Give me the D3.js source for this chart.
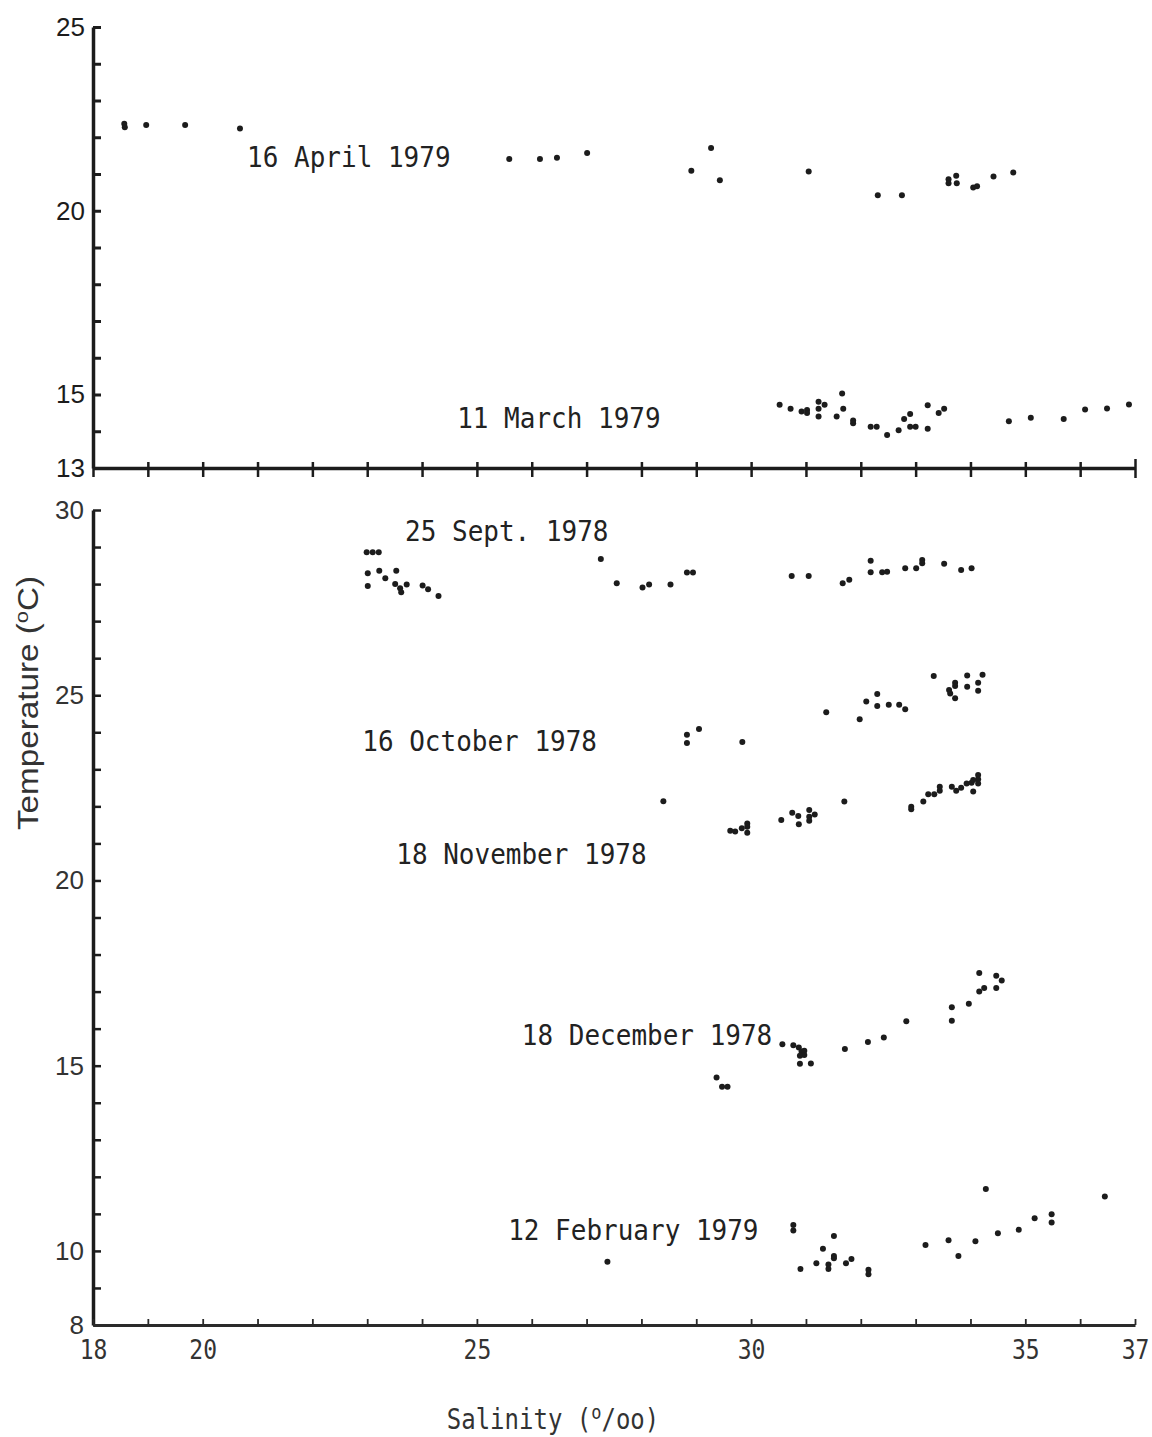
<!DOCTYPE html>
<html>
<head>
<meta charset="utf-8">
<script src="https://cdn.jsdelivr.net/npm/d3@7/dist/d3.min.js"></script>
<style>
  html, body { margin: 0; padding: 0; background: #fff; }
  svg { display: block; }
</style>
</head>
<body>
<svg id="chart" width="1152" height="1437"></svg>
<script>
// Temperature–salinity observations, [salinity (o/oo), temperature (oC)]
// Upper panel: spring 1979 cruises
const april1979 = [
  [18.57, 22.37], [18.58, 22.27], [18.97, 22.33], [19.68, 22.33], [20.68, 22.24],
  [25.59, 21.41], [26.15, 21.41], [26.46, 21.44], [27.01, 21.57],
  [28.91, 21.09], [29.27, 21.71], [29.43, 20.83], [31.05, 21.07],
  [32.31, 20.42], [32.75, 20.42], [33.60, 20.86], [33.60, 20.75], [33.74, 20.95],
  [33.75, 20.75], [34.05, 20.63], [34.12, 20.67], [34.42, 20.93], [34.78, 21.04]
];
const march1979 = [
  [30.52, 14.72], [30.72, 14.61], [30.92, 14.54], [31.02, 14.58], [31.02, 14.50],
  [31.23, 14.80], [31.23, 14.61], [31.23, 14.40], [31.34, 14.72], [31.56, 14.40],
  [31.66, 15.03], [31.68, 14.61], [31.86, 14.29], [31.86, 14.22], [32.18, 14.12],
  [32.29, 14.12], [32.48, 13.90], [32.69, 14.03], [32.79, 14.33], [32.90, 14.47],
  [32.90, 14.12], [33.00, 14.12], [33.22, 14.71], [33.22, 14.07], [33.42, 14.50],
  [33.52, 14.61], [34.70, 14.27], [35.10, 14.37], [35.70, 14.33], [36.09, 14.59],
  [36.49, 14.62], [36.89, 14.73]
];
// Lower panel: autumn/winter 1978-79 cruises
const sept1978 = [
  [22.99, 28.86], [23.10, 28.86], [23.21, 28.86], [23.01, 28.29], [23.22, 28.36],
  [23.33, 28.16], [23.53, 28.36], [23.01, 27.95], [23.51, 28.00], [23.60, 27.89],
  [23.62, 27.78], [23.72, 27.99], [24.01, 27.96], [24.11, 27.86], [24.30, 27.68],
  [27.26, 28.68], [27.55, 28.02], [28.02, 27.91], [28.14, 27.99], [28.53, 27.99],
  [28.83, 28.31], [28.94, 28.31], [30.74, 28.22], [31.05, 28.22], [31.67, 28.02],
  [31.79, 28.12], [32.18, 28.63], [32.18, 28.32], [32.39, 28.32], [32.48, 28.33],
  [32.81, 28.43], [33.01, 28.43], [33.12, 28.65], [33.12, 28.56], [33.52, 28.55],
  [33.83, 28.38], [34.02, 28.43]
];
const oct1978 = [
  [28.83, 23.93], [28.83, 23.71], [29.05, 24.09], [29.84, 23.74], [31.37, 24.54],
  [31.98, 24.35], [32.10, 24.83], [32.30, 25.03], [32.30, 24.71], [32.51, 24.74],
  [32.70, 24.74], [32.81, 24.62], [33.33, 25.52], [33.61, 25.14], [33.63, 25.05],
  [33.72, 25.34], [33.72, 25.25], [33.72, 24.92], [33.94, 25.53], [33.94, 25.23],
  [34.14, 25.34], [34.14, 25.12], [34.22, 25.55]
];
const nov1978 = [
  [28.40, 22.14], [29.62, 21.34], [29.71, 21.32], [29.83, 21.41], [29.93, 21.54],
  [29.93, 21.45], [29.93, 21.29], [30.55, 21.63], [30.75, 21.83], [30.86, 21.74],
  [30.87, 21.52], [31.06, 21.90], [31.06, 21.72], [31.06, 21.61], [31.16, 21.78],
  [31.70, 22.13], [32.92, 21.99], [32.92, 21.92], [33.14, 22.13], [33.23, 22.33],
  [33.34, 22.33], [33.44, 22.53], [33.44, 22.42], [33.66, 22.53], [33.74, 22.42],
  [33.83, 22.50], [33.93, 22.62], [34.02, 22.64], [34.05, 22.40], [34.05, 22.71],
  [34.14, 22.85], [34.14, 22.73], [34.14, 22.62]
];
const dec1978 = [
  [30.57, 15.58], [30.77, 15.55], [30.87, 15.49], [30.92, 15.38], [30.97, 15.40],
  [30.97, 15.29], [30.89, 15.27], [30.89, 15.05], [31.09, 15.06], [29.37, 14.68],
  [29.47, 14.43], [29.57, 14.43], [31.71, 15.45], [32.13, 15.64], [32.42, 15.76],
  [32.83, 16.20], [33.66, 16.58], [33.66, 16.21], [33.97, 16.67], [34.16, 17.00],
  [34.25, 17.10], [34.16, 17.50], [34.47, 17.43], [34.57, 17.30], [34.47, 17.10]
];
const feb1979 = [
  [27.38, 9.71], [30.77, 10.70], [30.77, 10.55], [30.90, 9.51], [31.19, 9.67],
  [31.31, 10.06], [31.41, 9.63], [31.41, 9.51], [31.51, 10.40], [31.51, 9.86],
  [31.51, 9.80], [31.73, 9.67], [31.83, 9.78], [32.14, 9.49], [32.14, 9.37],
  [33.18, 10.16], [33.60, 10.29], [33.78, 9.86], [34.09, 10.26], [34.28, 11.67],
  [34.50, 10.48], [34.88, 10.57], [35.17, 10.88], [35.48, 10.99], [35.48, 10.77],
  [36.45, 11.47]
];

// Cruise date labels, anchored in data units (start of text, baseline)
const topLabels = [
  { text: "16 April 1979", s: 20.81, t: 21.19 },
  { text: "11 March 1979", s: 24.64, t: 14.09 }
];
const bottomLabels = [
  { text: "25 Sept. 1978", s: 23.69, t: 29.16 },
  { text: "16 October 1978", s: 22.91, t: 23.50 },
  { text: "18 November 1978", s: 23.53, t: 20.45 },
  { text: "18 December 1978", s: 25.82, t: 15.56 },
  { text: "12 February 1979", s: 25.57, t: 10.30 }
];

// Axis ticks
const salinityTicks = d3.range(18, 38);
const salinityLabels = [18, 20, 25, 30, 35, 37];
const topTempTicks = d3.range(13, 26);
const topTempLabels = [25, 20, 15, 13];
const bottomTempTicks = d3.range(8, 31);
const bottomTempLabels = [30, 25, 20, 15, 10, 8];

const svg = d3.select("#chart");
const ink = "#1c1c1c";
const mono = "'DejaVu Sans Mono', monospace";
const sans = "'Liberation Sans', Arial, sans-serif";

const x = d3.scaleLinear().domain([18, 37]).range([93, 1135]);
const yTop = d3.scaleLinear().domain([13, 25]).range([468, 27]);
const yBot = d3.scaleLinear().domain([8, 30]).range([1325, 510]);

// ---------- upper panel axes ----------
const topY = svg.append("g").attr("transform", `translate(${x(18)},0)`)
  .call(d3.axisRight(yTop).tickValues(topTempTicks).tickSize(8).tickSizeOuter(0).tickFormat(""));
topY.select(".domain").attr("stroke", ink).attr("stroke-width", 3.5);
topY.selectAll(".tick line").attr("stroke", ink).attr("stroke-width", 3);

svg.append("g").attr("transform", `translate(${x(18) - 6},0)`)
  .call(d3.axisLeft(yTop).tickValues(topTempLabels).tickSize(0).tickPadding(2).tickFormat(d3.format("d")))
  .call(g => g.select(".domain").remove())
  .selectAll("text")
  .attr("font-family", sans).attr("font-size", 26).attr("fill", ink);

const topX = svg.append("g").attr("transform", `translate(0,${yTop(13)})`)
  .call(d3.axisBottom(x).tickValues(salinityTicks).tickSize(9).tickSizeOuter(0).tickFormat(""));
topX.select(".domain").attr("stroke", ink).attr("stroke-width", 3.5);
topX.selectAll(".tick line").attr("stroke", ink).attr("stroke-width", 2.5).attr("y1", -6);
topX.selectAll(".tick").filter(d => d === 37).select("line").attr("y1", -9).attr("y2", 10);

// ---------- lower panel axes ----------
const botY = svg.append("g").attr("transform", `translate(${x(18)},0)`)
  .call(d3.axisRight(yBot).tickValues(bottomTempTicks).tickSize(8).tickSizeOuter(0).tickFormat(""));
botY.select(".domain").attr("stroke", ink).attr("stroke-width", 3.5);
botY.selectAll(".tick line").attr("stroke", ink).attr("stroke-width", 2.5);

svg.append("g").attr("transform", `translate(${x(18) - 7},0)`)
  .call(d3.axisLeft(yBot).tickValues(bottomTempLabels).tickSize(0).tickPadding(2).tickFormat(d3.format("d")))
  .call(g => g.select(".domain").remove())
  .selectAll("text")
  .attr("font-family", sans).attr("font-size", 26).attr("fill", "#333");

const botX = svg.append("g").attr("transform", `translate(0,${yBot(8)})`)
  .call(d3.axisTop(x).tickValues(salinityTicks).tickSize(6).tickSizeOuter(0).tickFormat(""));
botX.select(".domain").attr("stroke", "#2a2a2a").attr("stroke-width", 3);
botX.selectAll(".tick line").attr("stroke", "#2a2a2a").attr("stroke-width", 1.8);

svg.append("g").attr("transform", `translate(0,${yBot(8)})`)
  .call(d3.axisBottom(x).tickValues(salinityLabels).tickSize(0).tickPadding(13).tickFormat(d3.format("d")))
  .call(g => g.select(".domain").remove())
  .selectAll("text")
  .attr("font-family", mono).attr("font-size", 23).attr("fill", "#333")
  .attr("transform", "scale(1,1.15)");

// ---------- axis titles ----------
const ttl = svg.append("text")
  .attr("transform", `translate(38,703) rotate(-90)`)
  .attr("text-anchor", "middle")
  .attr("font-family", sans).attr("font-size", 29).attr("fill", "#333")
  .attr("textLength", 254).attr("lengthAdjust", "spacingAndGlyphs");
ttl.append("tspan").text("Temperature (");
ttl.append("tspan").attr("dy", -10).attr("font-size", 19).text("o");
ttl.append("tspan").attr("dy", 10).text("C)");

const stl = svg.append("g").attr("transform", "translate(553,1429) scale(1,1.15)")
  .append("text")
  .attr("text-anchor", "middle")
  .attr("font-family", mono).attr("font-size", 24).attr("fill", "#333");
stl.append("tspan").text("Salinity (");
stl.append("tspan").attr("dy", -9).attr("font-size", 17).text("o");
stl.append("tspan").attr("dy", 9).text("/oo)");

// ---------- points ----------
function drawSeries(data, yScale) {
  svg.append("g").selectAll("circle").data(data).join("circle")
    .attr("cx", d => x(d[0]))
    .attr("cy", d => yScale(d[1]))
    .attr("r", 3)
    .attr("fill", ink);
}
[april1979, march1979].forEach(s => drawSeries(s, yTop));
[sept1978, oct1978, nov1978, dec1978, feb1979].forEach(s => drawSeries(s, yBot));

// ---------- cruise date labels ----------
function drawLabels(labels, yScale) {
  svg.append("g").selectAll("g").data(labels).join("g")
    .attr("transform", d => `translate(${x(d.s)},${yScale(d.t)}) scale(1,1.12)`)
    .append("text")
    .attr("font-family", mono).attr("font-size", 26).attr("fill", "#222")
    .text(d => d.text);
}
drawLabels(topLabels, yTop);
drawLabels(bottomLabels, yBot);
</script>
</body>
</html>
